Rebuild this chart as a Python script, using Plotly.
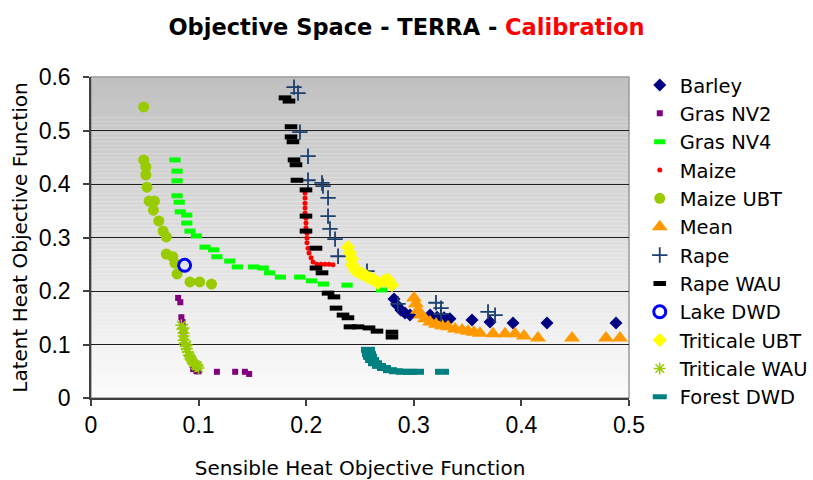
import plotly.graph_objects as go

# ---------------- data ----------------
barley_x = [0.2816, 0.2844, 0.2881, 0.2918, 0.2965, 0.3151, 0.3216, 0.3281, 0.3336, 0.3541, 0.3708, 0.3922, 0.4238, 0.4879]
barley_y = [0.185, 0.174, 0.164, 0.159, 0.155, 0.155, 0.151, 0.150, 0.148, 0.146, 0.142, 0.140, 0.140, 0.140]

grasnv2_x = [0.081, 0.083, 0.084, 0.085, 0.085, 0.086, 0.095, 0.098, 0.100, 0.117, 0.134, 0.143, 0.147]
grasnv2_y = [0.187, 0.179, 0.151, 0.142, 0.133, 0.123, 0.054, 0.050, 0.050, 0.049, 0.049, 0.049, 0.045]

grasnv4_x = [0.078, 0.080, 0.080, 0.080, 0.082, 0.083, 0.089, 0.089, 0.092, 0.098, 0.106, 0.114, 0.117,
             0.129, 0.136, 0.151, 0.160, 0.166, 0.176, 0.194, 0.205, 0.216, 0.238, 0.270]
grasnv4_y = [0.445, 0.424, 0.406, 0.378, 0.366, 0.348, 0.342, 0.327, 0.312, 0.303, 0.282, 0.277, 0.264,
             0.256, 0.245, 0.245, 0.243, 0.234, 0.226, 0.226, 0.219, 0.213, 0.211, 0.202]

maize_x = [0.1989, 0.1989, 0.1989, 0.1989, 0.1989, 0.1998, 0.1998, 0.1998, 0.2007, 0.2007, 0.2007,
           0.2017, 0.2026, 0.2045, 0.2063, 0.2100, 0.2138, 0.2175, 0.2212, 0.2249]
maize_y = [0.383, 0.374, 0.364, 0.355, 0.346, 0.336, 0.327, 0.318, 0.308, 0.299, 0.290,
           0.280, 0.271, 0.262, 0.254, 0.250, 0.250, 0.250, 0.250, 0.249]

maizeubt_x = [0.049, 0.049, 0.051, 0.051, 0.052, 0.054, 0.059, 0.058, 0.063, 0.067, 0.070, 0.070,
              0.076, 0.078, 0.080, 0.092, 0.101, 0.112]
maizeubt_y = [0.544, 0.445, 0.432, 0.417, 0.394, 0.368, 0.368, 0.351, 0.331, 0.312, 0.301, 0.269,
              0.264, 0.252, 0.232, 0.217, 0.217, 0.213]

mean_x = [0.3002, 0.3020, 0.3039, 0.3067, 0.3104, 0.3151, 0.3206, 0.3262, 0.3318, 0.3383, 0.3448,
          0.3504, 0.3559, 0.3615, 0.3736, 0.3848, 0.3941, 0.4024, 0.4154, 0.4470, 0.4786, 0.4916]
mean_y = [0.187, 0.176, 0.164, 0.155, 0.148, 0.142, 0.138, 0.135, 0.133, 0.129, 0.127,
          0.125, 0.123, 0.121, 0.120, 0.120, 0.120, 0.116, 0.112, 0.112, 0.112, 0.112]

rape_x = [0.1887, 0.1924, 0.1942, 0.2017, 0.2017, 0.2147, 0.2156, 0.2203, 0.2203, 0.2221, 0.2268,
          0.2296, 0.2565, 0.2853, 0.3206, 0.3253, 0.3253, 0.3690, 0.3755]
rape_y = [0.581, 0.570, 0.497, 0.452, 0.407, 0.402, 0.396, 0.374, 0.340, 0.316, 0.297,
          0.265, 0.237, 0.176, 0.178, 0.168, 0.157, 0.161, 0.155]

rapewau_x = [0.1803, 0.1840, 0.1859, 0.1859, 0.1877, 0.1887, 0.1905, 0.1914, 0.1998, 0.1998, 0.1998,
             0.2091, 0.2091, 0.2147, 0.2203, 0.2258, 0.2277, 0.2342, 0.2388, 0.2407, 0.2481, 0.2584,
             0.2658, 0.2797, 0.2797]
rapewau_y = [0.561, 0.555, 0.507, 0.488, 0.479, 0.445, 0.436, 0.407, 0.389, 0.340, 0.312,
             0.280, 0.243, 0.234, 0.196, 0.189, 0.168, 0.155, 0.150, 0.133, 0.133, 0.131,
             0.125, 0.123, 0.114]

lakedwd_x = [0.087]
lakedwd_y = [0.248]

triticaleubt_x = [0.2388, 0.2407, 0.2426, 0.2426, 0.2454, 0.2481, 0.2519, 0.2556, 0.2593, 0.2630,
                  0.2667, 0.2723, 0.2760, 0.2797]
triticaleubt_y = [0.282, 0.271, 0.260, 0.249, 0.239, 0.236, 0.232, 0.228, 0.224, 0.221,
                  0.215, 0.219, 0.221, 0.211]

triticalewau_x = [0.084, 0.085, 0.086, 0.086, 0.086, 0.087, 0.088, 0.089, 0.090, 0.091, 0.092, 0.093,
                  0.094, 0.095, 0.097, 0.098, 0.099, 0.100, 0.086, 0.089]
triticalewau_y = [0.136, 0.129, 0.121, 0.116, 0.108, 0.103, 0.097, 0.092, 0.086, 0.080, 0.077, 0.073,
                  0.069, 0.065, 0.062, 0.060, 0.060, 0.056, 0.131, 0.099]

forestdwd_x = [0.2574, 0.2584, 0.2593, 0.2612, 0.2639, 0.2677, 0.2723, 0.2779, 0.2835, 0.2900,
               0.2965, 0.3030, 0.3262]
forestdwd_y = [0.090, 0.082, 0.077, 0.071, 0.065, 0.060, 0.056, 0.052, 0.050, 0.049,
               0.049, 0.049, 0.049]

x_ticks = [0, 0.1, 0.2, 0.3, 0.4, 0.5]
y_ticks = [0, 0.1, 0.2, 0.3, 0.4, 0.5, 0.6]

# ---------------- figure ----------------
fig = go.Figure()

def add(name, xs, ys, marker):
    fig.add_trace(go.Scatter(x=xs, y=ys, mode="markers", name=name, legendgroup=name,
                             marker=marker))

add("Barley", barley_x, barley_y, dict(symbol="diamond", size=10, color="#000080"))
add("Gras NV2", grasnv2_x, grasnv2_y, dict(symbol="square", size=6, color="#800080"))
add("Gras NV4", grasnv4_x, grasnv4_y,
    dict(symbol="line-ew", size=8, color="#00ff00", line=dict(width=5, color="#00ff00")))
add("Maize", maize_x, maize_y, dict(symbol="circle", size=5, color="#ff0000"))
add("Maize UBT", maizeubt_x, maizeubt_y, dict(symbol="circle", size=11, color="#99cc00"))
add("Mean", mean_x, mean_y, dict(symbol="triangle-up", size=14, color="#ff9900"))
add("Rape", rape_x, rape_y,
    dict(symbol="cross-thin-open", size=11, color="#1c3f6e", line=dict(width=1.8, color="#1c3f6e")))
add("Rape WAU", rapewau_x, rapewau_y,
    dict(symbol="line-ew", size=9, color="#000000", line=dict(width=5, color="#000000")))
add("Lake DWD", lakedwd_x, lakedwd_y,
    dict(symbol="circle-open", size=12, color="#0000ff", line=dict(width=3, color="#0000ff")))
add("Triticale UBT", triticaleubt_x, triticaleubt_y, dict(symbol="diamond", size=11, color="#ffff00"))
add("Triticale WAU", triticalewau_x, triticalewau_y,
    dict(symbol="asterisk-open", size=10, color="#99cc00", line=dict(width=1.5, color="#99cc00")))
add("Forest DWD", forestdwd_x, forestdwd_y,
    dict(symbol="line-ew", size=10, color="#008080", line=dict(width=6, color="#008080")))

# gradient background of the plot area (grey at top to near white at bottom)
shapes = []
n = 80
for i in range(n):
    t = (i + 0.5) / n  # 0 bottom -> 1 top
    v = int(round(252 - (252 - 192) * t))
    shapes.append(dict(type="rect", xref="paper", yref="paper", x0=0, x1=1,
                       y0=i / n, y1=(i + 1) / n, fillcolor=f"rgb({v},{v},{v})",
                       line=dict(width=0), layer="below"))
shapes.append(dict(type="rect", xref="paper", yref="paper", x0=0, x1=1, y0=0, y1=1,
                   line=dict(width=1.5, color="#9a9a9a"), fillcolor="rgba(0,0,0,0)", layer="below"))

fig.update_layout(
    width=813, height=480,
    paper_bgcolor="white", plot_bgcolor="white",
    margin=dict(l=91, r=184, t=77, b=82, autoexpand=False),
    shapes=shapes,
    title=dict(text="Objective Space - TERRA - <span style='color:#ff0000'>Calibration</span>",
               x=0.5, xref="container", xanchor="center", y=1 - 27 / 480, yanchor="middle",
               font=dict(family="DejaVu Sans", size=22.5, color="black", weight="bold")),
    font=dict(family="DejaVu Sans", color="black"),
    legend=dict(x=1.02, xanchor="left", y=1.035, yanchor="top", maxheight=470,
                font=dict(family="DejaVu Sans", size=19.5, color="black"),
                tracegroupgap=0, bgcolor="rgba(0,0,0,0)", itemclick=False),
    showlegend=True,
)

fig.update_xaxes(range=[0, 0.5], tickvals=x_ticks, ticktext=[str(v) for v in x_ticks],
                 showgrid=False, zeroline=False, automargin=False,
                 showline=True, linecolor="#404040", linewidth=1.5,
                 ticks="outside", ticklen=6, tickcolor="#404040", tickwidth=1.5,
                 tickfont=dict(family="Liberation Sans", size=23, color="black"),
                 title=dict(text="Sensible Heat Objective Function", standoff=25,
                            font=dict(family="DejaVu Sans", size=20, color="black")))
fig.update_yaxes(range=[0, 0.6], tickvals=y_ticks, ticktext=[str(v) for v in y_ticks],
                 showgrid=True, gridcolor="#1e1e1e", gridwidth=1, zeroline=False, automargin=False,
                 showline=True, linecolor="#404040", linewidth=1.5,
                 ticks="outside", ticklen=6, tickcolor="#404040", tickwidth=1.5,
                 ticklabelstandoff=8,
                 tickfont=dict(family="Liberation Sans", size=23, color="black"),
                 title=dict(text="Latent Heat Objective Function", standoff=6,
                            font=dict(family="DejaVu Sans", size=20, color="black")))

fig.write_html("out.html", config={"displayModeBar": False},
               post_script="document.body.style.margin='0px';")
